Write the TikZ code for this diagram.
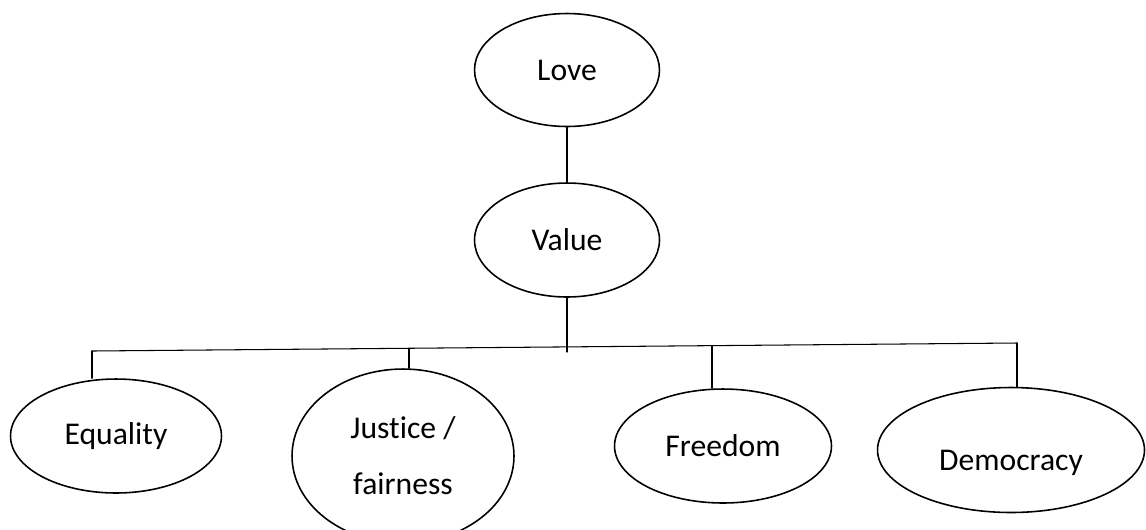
\documentclass[tikz,border=0pt]{standalone}
\usepackage{fontspec}
\setmainfont{Carlito}[Ligatures=NoCommon]
\usetikzlibrary{shapes.geometric}
\begin{document}
\begin{tikzpicture}[x=0.02cm,y=-0.02cm,line join=round,line cap=round,
	font=\fontsize{18}{32}\selectfont,
	oval/.style={draw,ellipse,line width=0.9pt,inner sep=0pt,align=center},
	link/.style={line width=0.6pt}]
	\useasboundingbox (0,0) rectangle (1146,529);
	% top of the tree
	\node[oval,minimum width=3.7cm,minimum height=2.26cm] (love) at (567,70) {Love};
	\node[oval,minimum width=3.7cm,minimum height=2.28cm] (value) at (567,240) {Value};
	% the four branches
	\node[oval,minimum width=4.22cm,minimum height=2.28cm] (equality) at (116,436) {Equality};
	\node[oval,minimum width=4.44cm,minimum height=3.48cm] (justice) at (403,456) {Justice /\\fairness};
	\node[oval,minimum width=4.34cm,minimum height=2.28cm] (freedom) at (723,446) {Freedom};
	\node[oval,minimum width=5.34cm,minimum height=2.5cm,
		label={[yshift=-0.26cm]center:Democracy}] (democracy) at (1011,450) {};
	\coordinate (busL) at (92,351);
	\coordinate (busR) at (1017,343);
	\coordinate (stem) at (567,352);
	\coordinate (tapJ) at (409,348.3);
	\coordinate (tapF) at (712,345.6);
	\draw[link] (love)--(value);
	\draw[link] (value)--(stem);
	\draw[link] (busL)--(busR);
	\foreach \t/\n in {busL/equality,tapJ/justice,tapF/freedom,busR/democracy}{\draw[link]
		(\t)--(\t |- \n.north);}
\end{tikzpicture}
\end{document}
